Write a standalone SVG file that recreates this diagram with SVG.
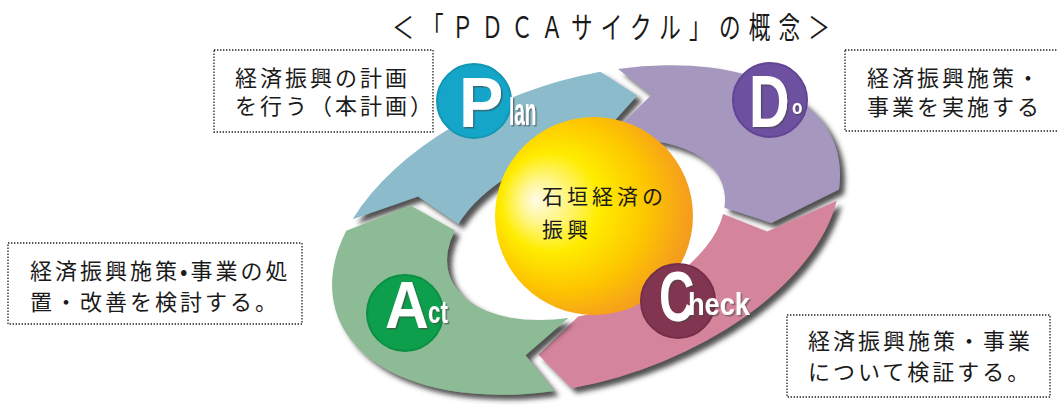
<svg xmlns="http://www.w3.org/2000/svg" width="1058" height="405" viewBox="0 0 1058 405">
  <defs>
    <style>
      .jp{font-family:"Noto Sans CJK JP","Noto Sans",sans-serif;fill:#1a1a1a}
      .note{font-size:22px;letter-spacing:3px}
      .box{fill:#fff;stroke:#222;stroke-width:1.3;stroke-dasharray:1.4 1.6}
      .lt{font-family:"Liberation Sans",Arial,sans-serif;font-weight:bold;fill:#fff}
      .seg{stroke:none}
    </style>
    <filter id="drop" x="-10%" y="-10%" width="130%" height="130%">
      <feDropShadow dx="5" dy="5" stdDeviation="2.5" flood-color="#333" flood-opacity="0.85"/>
    </filter>
    <filter id="lsh" x="-20%" y="-20%" width="150%" height="150%">
      <feDropShadow dx="1.5" dy="1.5" stdDeviation="0.6" flood-color="#444" flood-opacity="0.6"/>
    </filter>
    <radialGradient id="sphere" cx="0.4" cy="0.45" r="0.62" fx="0.2" fy="0.42">
      <stop offset="0" stop-color="#fffbe6"/>
      <stop offset="0.18" stop-color="#fff68a"/>
      <stop offset="0.4" stop-color="#ffec00"/>
      <stop offset="0.7" stop-color="#fdc500"/>
      <stop offset="0.92" stop-color="#f6a21a"/>
      <stop offset="1" stop-color="#f39a1e"/>
    </radialGradient>
  </defs>

  <rect width="1058" height="405" fill="#fff"/>

  <!-- title -->
  <text class="jp" transform="translate(611,38) scale(0.72,1)" text-anchor="middle" font-size="30" textLength="608" lengthAdjust="spacing">＜「ＰＤＣＡサイクル」の概念＞</text>

  <!-- cycle ring: four arrow segments drawn on a unit ring, mapped to the tilted ellipse -->
  <g id="connectors">
    <g filter="url(#drop)">
      <path id="arrow-plan" class="seg" fill="#8cbccb" transform="translate(586,230) rotate(-18.4) scale(2.63,1.5)"
        d="M -82.90 -55.92 A 100 100 0 0 1 24.19 -97.03 L 34.65 -74.32 L 13.23 -53.07 A 54.7 54.7 0 0 0 -45.35 -30.59 L -56.57 -56.57 Z"/>
    </g>
    <g filter="url(#drop)">
      <path id="arrow-do" class="seg" fill="#a597bd" transform="translate(586,230) rotate(-18.4) scale(2.63,1.5)"
        d="M 30.90 -95.11 A 100 100 0 0 1 96.13 27.56 L 67.72 34.50 L 52.58 15.08 A 54.7 54.7 0 0 0 16.90 -52.02 L 39.75 -71.72 Z"/>
    </g>
    <g filter="url(#drop)">
      <path id="arrow-check" class="seg" fill="#d5859b" transform="translate(586,230) rotate(-18.4) scale(2.63,1.5)"
        d="M 93.97 34.20 A 100 100 0 0 1 -24.19 97.03 L -32.12 68.88 L -13.23 53.07 A 54.7 54.7 0 0 0 51.40 18.71 L 65.15 39.14 Z"/>
    </g>
    <g filter="url(#drop)">
      <path id="arrow-act" class="seg" fill="#8dbb95" transform="translate(586,230) rotate(-18.4) scale(2.63,1.5)"
        d="M -30.90 95.11 A 100 100 0 0 1 -86.60 -50.00 L -60.38 -52.49 L -47.37 -27.35 A 54.7 54.7 0 0 0 -16.90 52.02 L -36.84 66.47 Z"/>
    </g>
  </g>

  <!-- centre sphere -->
  <g id="core">
    <circle cx="594" cy="216" r="99" fill="url(#sphere)"/>
    <text class="jp" font-size="21" letter-spacing="4" x="542" y="204">石垣経済の</text>
    <text class="jp" font-size="21" letter-spacing="4" x="542" y="237">振興</text>
  </g>

  <!-- stage badges -->
  <g id="badge-plan">
    <circle cx="474" cy="101" r="37" fill="#14a5c8" stroke="#1296b4" stroke-width="2"/>
    <g filter="url(#lsh)">
      <text class="lt" font-size="70" transform="translate(459,127) scale(0.95,1)">P</text>
      <text class="lt" font-size="38" transform="translate(509,125) scale(0.5,1)">lan</text>
    </g>
  </g>
  <g id="badge-do">
    <circle cx="770" cy="100" r="37" fill="#6e50a0" stroke="#624592" stroke-width="2"/>
    <g filter="url(#lsh)">
      <text class="lt" font-size="74" transform="translate(749,127) scale(0.76,1)">D</text>
      <text class="lt" font-size="20" transform="translate(792,114) scale(0.85,1)">o</text>
    </g>
  </g>
  <g id="badge-act">
    <circle cx="405" cy="313" r="38" fill="#0e9f4c" stroke="#0b8f43" stroke-width="2"/>
    <g filter="url(#lsh)">
      <text class="lt" font-size="66" transform="translate(385,328) scale(0.92,1)">A</text>
      <text class="lt" font-size="31" transform="translate(428,323) scale(0.72,1)">ct</text>
    </g>
  </g>
  <g id="badge-check">
    <circle cx="678" cy="301" r="37" fill="#823550" stroke="#752e48" stroke-width="2"/>
    <g filter="url(#lsh)">
      <text class="lt" font-size="70" transform="translate(659,321) scale(0.7,1)">C</text>
      <text class="lt" font-size="32" transform="translate(688,315) scale(0.85,1)">heck</text>
    </g>
  </g>

  <!-- explanatory notes -->
  <g id="note-plan">
    <rect class="box" x="214" y="50" width="219" height="82"/>
    <text class="jp note" x="235" y="86">経済振興の計画</text>
    <text class="jp note" x="235" y="114">を行う（本計画）</text>
  </g>
  <g id="note-do">
    <rect class="box" x="845" y="50" width="220" height="81"/>
    <text class="jp note" x="867" y="86">経済振興施策・</text>
    <text class="jp note" x="867" y="115" letter-spacing="2.2">事業を実施する</text>
  </g>
  <g id="note-act">
    <rect class="box" x="8" y="243" width="294" height="81"/>
    <text class="jp note" x="30" y="279" letter-spacing="1.3">経済振興施策•事業の処</text>
    <text class="jp note" x="30" y="310" letter-spacing="0.8">置・改善を検討する。</text>
  </g>
  <g id="note-check">
    <rect class="box" x="787" y="315" width="263" height="82"/>
    <text class="jp note" x="808" y="349">経済振興施策・事業</text>
    <text class="jp note" x="808" y="380" letter-spacing="1.6">について検証する。</text>
  </g>
</svg>
